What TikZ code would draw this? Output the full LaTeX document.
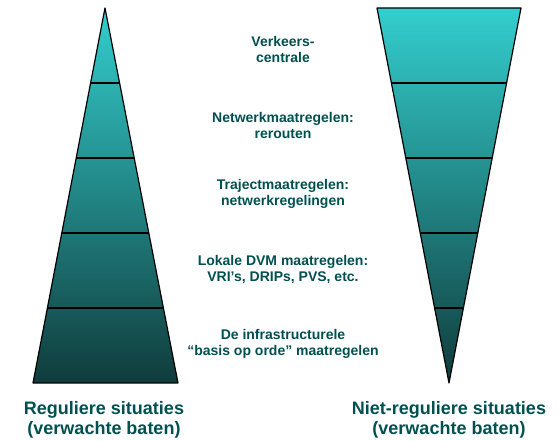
\documentclass[tikz,border=0pt]{standalone}
\usepackage{fontspec}
\setmainfont{Liberation Sans}
\usetikzlibrary{calc}

\definecolor{tealtop}{RGB}{52,206,206}
\definecolor{tealmid}{RGB}{40,160,160}
\definecolor{tealbot}{RGB}{16,60,60}
\definecolor{labelteal}{RGB}{0,80,80}

\begin{document}
\begin{tikzpicture}[x=1pt,y=1pt,
        level/.style={align=center, font=\bfseries\fontsize{14}{16}\selectfont, text=labelteal},
        caption/.style={align=center, font=\bfseries\fontsize{18}{20}\selectfont, text=labelteal},
        outline/.style={line width=1.2pt, draw=black, line join=round},
        bands/.style={top color=tealtop, middle color=tealmid, bottom color=tealbot}]

        \useasboundingbox (0,0) rectangle (559,441);

        % Left pyramid (regular situations)
        \coordinate (lapex) at (105,433);
        \coordinate (lbl) at (33,58);
        \coordinate (lbr) at (178,58);
        \shade[bands] (lapex) -- (lbr) -- (lbl) -- cycle;
        \foreach \t in {0.2,0.4,0.6,0.8}
            \draw[outline] ($(lapex)!\t!(lbl)$) -- ($(lapex)!\t!(lbr)$);
        \draw[outline] (lapex) -- (lbr) -- (lbl) -- cycle;

        % Right pyramid (non-regular situations)
        \coordinate (rtl) at (377,433);
        \coordinate (rtr) at (521,433);
        \coordinate (rapex) at (449,58);
        \shade[bands] (rtl) -- (rtr) -- (rapex) -- cycle;
        \foreach \t in {0.2,0.4,0.6,0.8}
            \draw[outline] ($(rtl)!\t!(rapex)$) -- ($(rtr)!\t!(rapex)$);
        \draw[outline] (rtl) -- (rtr) -- (rapex) -- cycle;

        % Levels
        \node[level] (central) at (283,391) {Verkeers-\\centrale};
        \node[level] (network) at (283,315) {Netwerkmaatregelen:\\rerouten};
        \node[level] (route) at (283,247) {Trajectmaatregelen:\\netwerkregelingen};
        \node[level] (local) at (283,171) {Lokale DVM maatregelen:\\VRI’s, DRIPs, PVS, etc.};
        \node[level] (basis) at (283,97) {De infrastructurele\\“basis op orde” maatregelen};

        % Captions
        \node[caption] (regular) at (104,21) {Reguliere situaties\\(verwachte baten)};
        \node[caption] (irregular) at (449,21) {Niet-reguliere situaties\\(verwachte baten)};

\end{tikzpicture}
\end{document}
